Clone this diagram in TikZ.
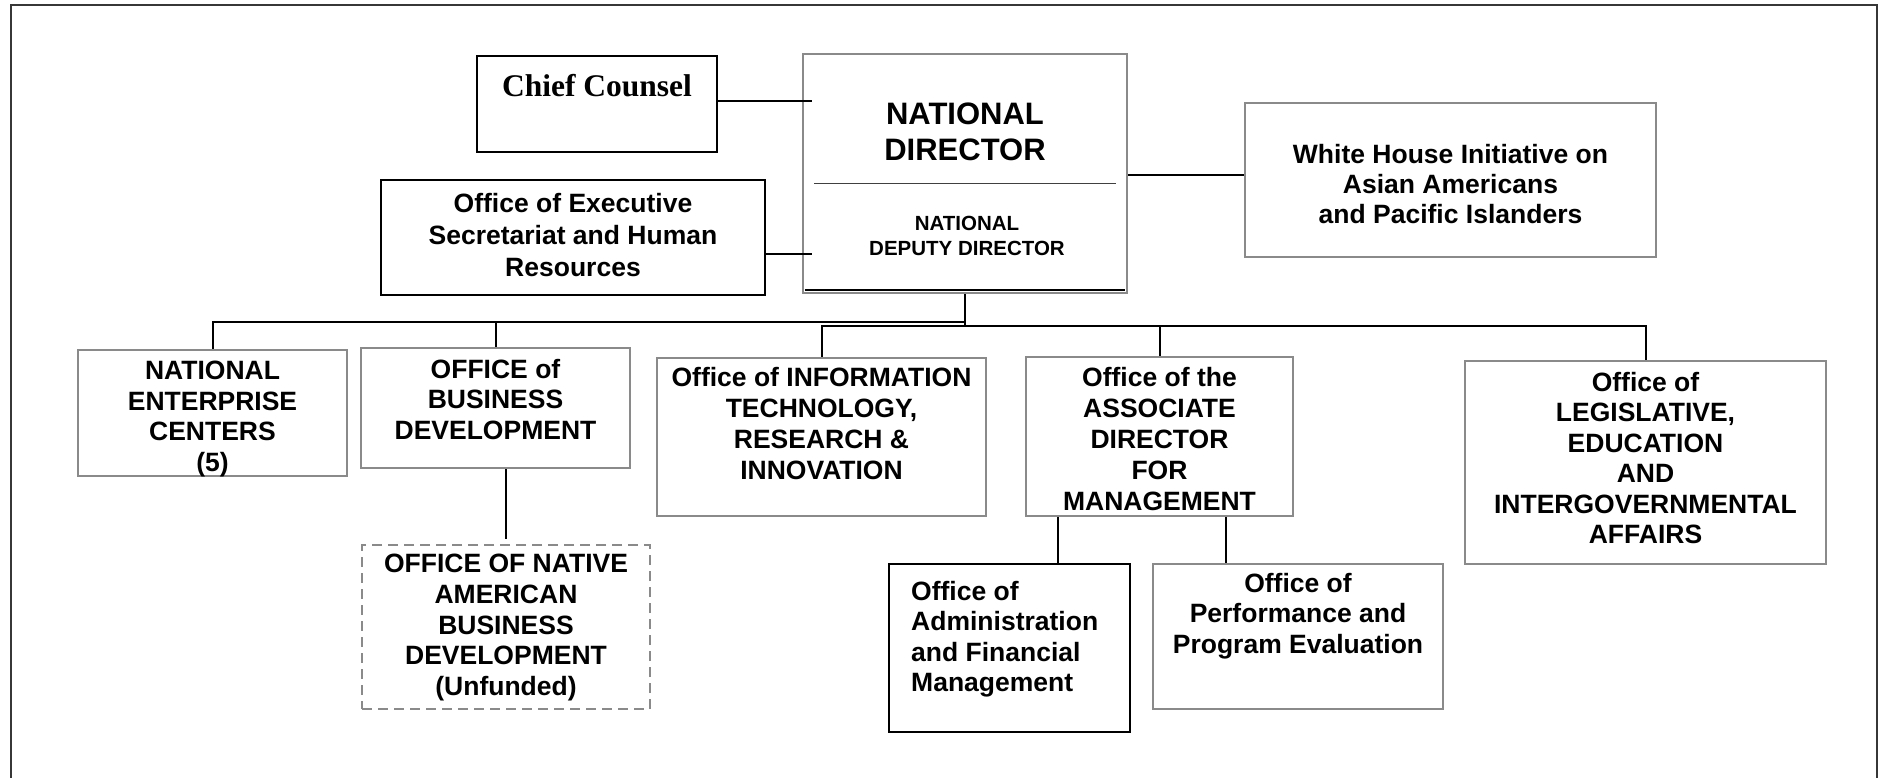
\documentclass[tikz,border=0pt]{standalone}
\usepackage{fontspec}
\setmainfont{Liberation Sans}
\newfontfamily\serifcc{Liberation Serif}
\usetikzlibrary{calc, positioning}
\definecolor{boxgrey}{RGB}{138,138,138}
\definecolor{framegrey}{RGB}{55,55,55}
\tikzset{
  greybox/.style={draw=boxgrey, line width=2.5pt, rectangle, inner sep=0pt},
  blackbox/.style={draw=black, line width=2pt, rectangle, inner sep=0pt},
  dashbox/.style={greybox, dash pattern=on 10pt off 6pt},
  boxtext/.style={anchor=north, inner sep=0pt, align=center, font=\fontsize{26.5}{30.5}\selectfont\bfseries},
  link/.style={draw=black, line width=2pt}
}

\begin{document}
\begin{tikzpicture}[x=1pt, y=-1pt]
        \useasboundingbox (0,0) rectangle (1883,778);
        \draw [framegrey, line width=1.5pt] (11,778) -- (11,5) -- (1877,5) -- (1877,778);

        \node [greybox, minimum width=324pt, minimum height=239pt] (ND) at (965,173.5) {};
        \node [boxtext, font=\fontsize{31}{36}\selectfont\bfseries] (NDtop) at (965,103) {NATIONAL\\DIRECTOR};
        \node [boxtext, font=\fontsize{20.5}{25}\selectfont\bfseries] (NDlow) at (967,216) {NATIONAL\\DEPUTY DIRECTOR};
        \draw [black!75, line width=1pt] (814,184) -- (1116,184);
        \draw [line width=2.5pt] ([xshift=3pt, yshift=4pt]ND.south west) -- ([xshift=-3pt, yshift=4pt]ND.south east);

        \node [blackbox, minimum width=240pt, minimum height=96pt] (CC) at (597,104) {};
        \node [anchor=base, inner sep=0pt, font=\serifcc\fontsize{31.5}{36}\selectfont\bfseries] (CCtext) at (597,97) {Chief Counsel};
        \node [blackbox, minimum width=384pt, minimum height=115pt] (ES) at (573,237.5) {};
        \node [boxtext, font=\fontsize{26.5}{32}\selectfont\bfseries] (EStext) at (573,193.5) {Office of Executive\\Secretariat and Human\\Resources};
        \node [greybox, minimum width=411pt, minimum height=154pt] (WH) at (1450.5,180) {};
        \node [boxtext, font=\fontsize{26.5}{30}\selectfont\bfseries] (WHtext) at (1450.5,144) {White House Initiative on\\Asian Americans\\and Pacific Islanders};
        \draw [link] (CC.east |- 0,101) -- ([xshift=10pt]ND.west |- 0,101);
        \draw [link] (ES.east |- 0,254) -- ([xshift=10pt]ND.west |- 0,254);
        \draw [link] (ND.east |- 0,175) -- (WH.west |- 0,175);

        \node [greybox, minimum width=269pt, minimum height=126pt] (NEC) at (212.5,413) {};
        \node [boxtext] (NECtext) at (212.5,361) {NATIONAL\\ENTERPRISE\\CENTERS\\(5)};
        \node [greybox, minimum width=269pt, minimum height=120pt] (OBD) at (495.5,408) {};
        \node [boxtext] (OBDtext) at (495.5,359) {OFFICE of\\BUSINESS\\DEVELOPMENT};
        \node [greybox, minimum width=329pt, minimum height=158pt] (OITRI) at (821.5,437) {};
        \node [boxtext, font=\fontsize{26.5}{31}\selectfont\bfseries] (OITRItext) at (821.5,367) {Office of INFORMATION\\TECHNOLOGY,\\RESEARCH \&\\INNOVATION};
        \node [greybox, minimum width=267pt, minimum height=159pt] (OADM) at (1159.5,436.5) {};
        \node [boxtext, font=\fontsize{26.5}{31}\selectfont\bfseries] (OADMtext) at (1159.5,367) {Office of the\\ASSOCIATE\\DIRECTOR\\FOR\\MANAGEMENT};
        \node [greybox, minimum width=361pt, minimum height=203pt] (OLEIA) at (1645.5,462.5) {};
        \node [boxtext] (OLEIAtext) at (1645.5,372) {Office of\\LEGISLATIVE,\\EDUCATION\\AND\\INTERGOVERNMENTAL\\AFFAIRS};

        \coordinate (busL) at (965,322);
        \coordinate (busR) at (965,326);
        \draw [link] (ND.south) -- ([yshift=-1pt]busR);
        \draw [link] (busL) -| (NEC.north);
        \draw [link] (busL) -| (OBD.north);
        \draw [link] (busR) -| (OITRI.north);
        \draw [link] (busR) -| (OADM.north);
        \draw [link] (busR) -| (OLEIA.north);

        \node [dashbox, minimum width=288pt, minimum height=164pt] (ONABD) at (506,627) {};
        \node [boxtext, font=\fontsize{26.5}{30.75}\selectfont\bfseries] (ONABDtext) at (506,554) {OFFICE OF NATIVE\\AMERICAN\\BUSINESS\\DEVELOPMENT\\(Unfunded)};
        \node [blackbox, minimum width=241pt, minimum height=168pt] (OAFM) at (1009.5,648) {};
        \node [boxtext, anchor=north west, align=left] (OAFMtext) at (911,581) {Office of\\Administration\\and Financial\\Management};
        \node [greybox, minimum width=290pt, minimum height=145pt] (OPPE) at (1298,636.5) {};
        \node [boxtext] (OPPEtext) at (1298,573) {Office of\\Performance and\\Program Evaluation};
        \draw [link] (OBD.south -| ONABD.north) -- ([yshift=5pt]ONABD.north);
        \draw [link] (OADM.south -| 1058,0) -- (OAFM.north -| 1058,0);
        \draw [link] (OADM.south -| 1226,0) -- (OPPE.north -| 1226,0);
\end{tikzpicture}
\end{document}
